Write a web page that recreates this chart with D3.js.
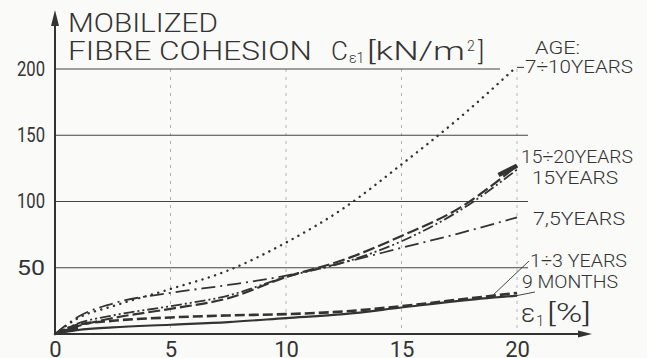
<!DOCTYPE html>
<html>
<head>
<meta charset="utf-8">
<script src="https://cdn.jsdelivr.net/npm/d3@7"></script>
<style>
  body { margin: 0; background: #fafaf8; }
  svg text { font-family: Roboto, "Liberation Sans", sans-serif; font-weight: 300; fill: #333; }
</style>
</head>
<body>
<svg id="chart" width="647" height="358"></svg>
<script>
// strain eps1 [%] where values were read
const strain = [0, 1, 2.5, 5, 7.5, 10, 12.5, 15, 17.5, 20];

// mobilized fibre cohesion [kN/m2] per root age
const age7to10 = [0, 12, 21, 34, 48, 69, 95, 128, 163, 202];
const age15to20 = [0, 6, 12, 19, 27, 43, 56, 74, 95, 127];
const age15 = [0, 8, 14, 21, 29, 43, 54, 70, 93, 124];
const age7_5 = [0, 13, 23, 31, 37, 44, 54, 65, 76, 88];
const age1to3 = [0, 7, 10, 12.5, 14, 15, 17, 21, 26, 31];
const months9 = [0, 3, 5, 7, 9, 12, 15, 20, 25, 29];

const xTicks = [0, 5, 10, 15, 20];
const yTicks = [50, 100, 150, 200];

const seriesNames = ["7÷10YEARS", "15÷20YEARS", "15YEARS", "7,5YEARS", "1÷3 YEARS", "9 MONTHS"];
const seriesValues = [age7to10, age15to20, age15, age7_5, age1to3, months9];

const svg = d3.select("#chart");

const x = d3.scaleLinear().domain([0, 20]).range([55, 517]);
const y = d3.scaleLinear().domain([0, 200]).range([334, 69]);

const ink = "#333";

// vertical light grid
svg.append("g").selectAll("line")
  .data(xTicks.slice(1))
  .enter().append("line")
  .attr("x1", d => x(d)).attr("x2", d => x(d))
  .attr("y1", y(200)).attr("y2", y(0))
  .attr("stroke", "#b5b5b5")
  .attr("stroke-width", 1)
  .attr("stroke-dasharray", "3,5");

// horizontal grid
svg.append("g").selectAll("line")
  .data(yTicks)
  .enter().append("line")
  .attr("x1", x(0))
  .attr("x2", d => d === 200 ? 500 : 528)
  .attr("y1", d => y(d)).attr("y2", d => y(d))
  .attr("stroke", "#444")
  .attr("stroke-width", 1.2);

// axes
const yAxis = svg.append("g")
  .attr("transform", `translate(${x(0)},0)`)
  .call(d3.axisLeft(y).tickValues(yTicks).tickSize(0).tickPadding(10));
yAxis.select(".domain").remove();
yAxis.selectAll("text")
  .attr("font-size", 20)
  .attr("textLength", 28)
  .attr("lengthAdjust", "spacingAndGlyphs")
  .attr("fill", ink)
  .style("font-family", "Roboto, sans-serif")
  .style("font-weight", 400);

const xAxis = svg.append("g")
  .attr("transform", `translate(0,${y(0)})`)
  .call(d3.axisBottom(x).tickValues(xTicks).tickSize(0).tickPadding(7));
xAxis.select(".domain").remove();
xAxis.selectAll("text")
  .attr("font-size", 22)
  .attr("fill", ink)
  .style("font-family", "Roboto, sans-serif")
  .style("font-weight", 400);

svg.append("line")
  .attr("x1", x(0)).attr("x2", x(0))
  .attr("y1", y(0)).attr("y2", 22)
  .attr("stroke", ink).attr("stroke-width", 2);
svg.append("path")
  .attr("d", `M${x(0)},10 L${x(0) - 4},26 L${x(0) + 4},26 Z`)
  .attr("fill", ink);

svg.append("line")
  .attr("x1", x(0)).attr("x2", 580)
  .attr("y1", y(0)).attr("y2", y(0))
  .attr("stroke", ink).attr("stroke-width", 2);
svg.append("path")
  .attr("d", `M592,${y(0)} L578,${y(0) - 3.5} L578,${y(0) + 3.5} Z`)
  .attr("fill", ink);

// curves
const styles = [
  { dash: "0.1,6.5", width: 2.4, cap: "round" },
  { dash: "12,4", width: 2.2, cap: "butt" },
  { dash: "11,3,2,3,2,3", width: 1.8, cap: "butt" },
  { dash: "14,5,2,5", width: 1.8, cap: "butt" },
  { dash: "10,4", width: 2.6, cap: "butt" },
  { dash: null, width: 2.2, cap: "butt" }
];

const line = d3.line()
  .x(d => x(d[0]))
  .y(d => y(d[1]))
  .curve(d3.curveMonotoneX);

svg.append("g").selectAll("path")
  .data(seriesValues)
  .enter().append("path")
  .attr("d", vals => line(vals.map((v, i) => [strain[i], v])))
  .attr("fill", "none")
  .attr("stroke", ink)
  .attr("stroke-width", (d, i) => styles[i].width)
  .attr("stroke-dasharray", (d, i) => styles[i].dash)
  .attr("stroke-linecap", (d, i) => styles[i].cap);

// dark wedge where all curves leave the origin
svg.append("path")
  .attr("d", d3.area()
    .x((d, i) => x(strain[i]))
    .y0((d, i) => y(months9[i]))
    .y1(d => y(d))
    (age15.slice(0, 2)))
  .attr("fill", ink);

// thick end dash on the 15÷20 / 15 years pair
const last = strain.length - 1;
svg.append("line")
  .attr("x1", x(19.2)).attr("y1", y(age15to20[last] - 7))
  .attr("x2", x(strain[last])).attr("y2", y(age15to20[last]))
  .attr("stroke", ink).attr("stroke-width", 4.5);

// title
const title = svg.append("g").attr("fill", ink);
title.append("text").attr("x", 68).attr("y", 32)
  .attr("font-size", 26).attr("textLength", 150).attr("lengthAdjust", "spacingAndGlyphs")
  .text("MOBILIZED");
title.append("text").attr("x", 68).attr("y", 60)
  .attr("font-size", 26).attr("textLength", 244).attr("lengthAdjust", "spacingAndGlyphs")
  .text("FIBRE COHESION");
title.append("text").attr("x", 331).attr("y", 60)
  .attr("font-size", 26).text("C");
title.append("text").attr("x", 349).attr("y", 63)
  .attr("font-size", 14).text("ε1");
title.append("text").attr("x", 367).attr("y", 60)
  .attr("font-size", 26).attr("textLength", 98).attr("lengthAdjust", "spacingAndGlyphs")
  .text("[kN/m");
title.append("text").attr("x", 467).attr("y", 51)
  .attr("font-size", 14).text("2");
title.append("text").attr("x", 478).attr("y", 60)
  .attr("font-size", 26).text("]");

// series labels
const labelLayout = [
  { x: 525, y: 73, w: 108 },
  { x: 521, y: 163, w: 112 },
  { x: 532, y: 184, w: 86 },
  { x: 533, y: 225, w: 92 },
  { x: 530, y: 267, w: 97 },
  { x: 522, y: 288, w: 96 }
];
svg.append("text").attr("x", 535).attr("y", 54)
  .attr("font-size", 19).attr("textLength", 45).attr("lengthAdjust", "spacingAndGlyphs")
  .text("AGE:");
svg.append("g").selectAll("text")
  .data(seriesNames)
  .enter().append("text")
  .attr("x", (d, i) => labelLayout[i].x)
  .attr("y", (d, i) => labelLayout[i].y)
  .attr("font-size", 19)
  .attr("textLength", (d, i) => labelLayout[i].w)
  .attr("lengthAdjust", "spacingAndGlyphs")
  .text(d => d);

// leader lines
svg.append("line")
  .attr("x1", x(strain[last])).attr("y1", y(age7to10[last]) + 1)
  .attr("x2", 524).attr("y2", y(age7to10[last]) + 1)
  .attr("stroke", ink).attr("stroke-width", 1);
svg.append("line")
  .attr("x1", 529).attr("y1", 261)
  .attr("x2", x(19)).attr("y2", y(age1to3[last] - 1))
  .attr("stroke", ink).attr("stroke-width", 0.9);
svg.append("line")
  .attr("x1", 535).attr("y1", 292)
  .attr("x2", x(strain[last])).attr("y2", y(months9[last]))
  .attr("stroke", ink).attr("stroke-width", 0.9);

// x axis name
const xName = svg.append("g");
xName.append("text").attr("x", 521).attr("y", 322)
  .attr("font-size", 26).text("ε");
xName.append("text").attr("x", 536).attr("y", 326)
  .attr("font-size", 15).text("1");
xName.append("text").attr("x", 547).attr("y", 322)
  .attr("font-size", 26).attr("textLength", 44).attr("lengthAdjust", "spacingAndGlyphs")
  .text("[%]");
</script>
</body>
</html>
